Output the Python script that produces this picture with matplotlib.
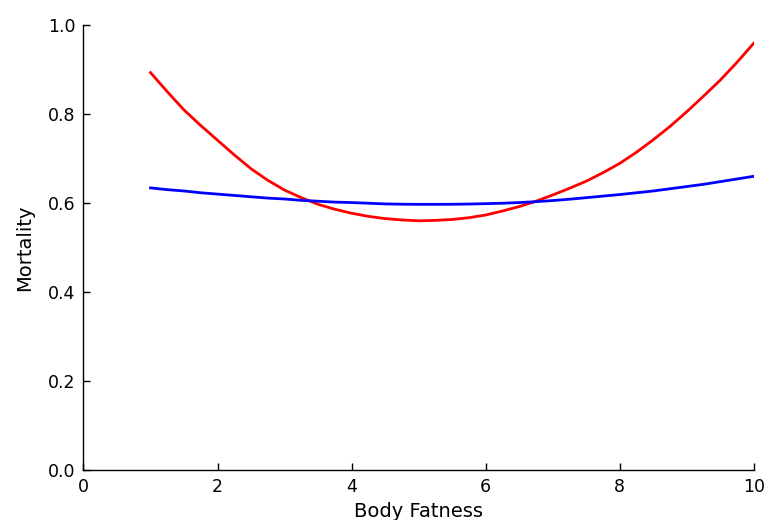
import matplotlib
matplotlib.use('Agg')
import matplotlib.pyplot as plt

# values
body_fatness = [1, 1.25, 1.5, 1.75, 2, 2.25, 2.5, 2.75, 3, 3.25, 3.5, 3.75, 4, 4.25, 4.5, 4.75,
                5, 5.25, 5.5, 5.75, 6, 6.25, 6.5, 6.75, 7, 7.25, 7.5, 7.75, 8, 8.25, 8.5, 8.75,
                9, 9.25, 9.5, 9.75, 10]
mortality_red = [0.893, 0.850, 0.809, 0.774, 0.741, 0.708, 0.677, 0.651, 0.629, 0.612, 0.597,
                 0.586, 0.577, 0.570, 0.565, 0.562, 0.560, 0.561, 0.563, 0.567, 0.573, 0.582,
                 0.592, 0.604, 0.618, 0.633, 0.649, 0.668, 0.689, 0.714, 0.742, 0.772, 0.805,
                 0.840, 0.876, 0.916, 0.959]
mortality_blue = [0.634, 0.630, 0.627, 0.623, 0.620, 0.617, 0.614, 0.611, 0.609, 0.606, 0.604,
                  0.602, 0.601, 0.5995, 0.598, 0.5973, 0.597, 0.597, 0.5972, 0.5977, 0.5985, 0.5995,
                  0.601, 0.603, 0.6055, 0.6085, 0.612, 0.6155, 0.619, 0.623, 0.627, 0.632, 0.637,
                  0.642, 0.648, 0.654, 0.660]

fig = plt.figure(figsize=(7.66, 5.2), dpi=100)
ax = fig.add_axes([0.109, 0.096, 0.875, 0.856])

ax.plot(body_fatness, mortality_red, color='#ff0000', lw=2)
ax.plot(body_fatness, mortality_blue, color='#0000ff', lw=2)

ax.set_xlim(0, 10)
ax.set_ylim(0, 1.0)
ax.set_xticks([0, 2, 4, 6, 8, 10])
ax.set_yticks([0.0, 0.2, 0.4, 0.6, 0.8, 1.0])
ax.set_yticklabels(['0.0', '0.2', '0.4', '0.6', '0.8', '1.0'])

ax.spines['top'].set_visible(False)
ax.spines['right'].set_visible(False)
for s in ['left', 'bottom']:
    ax.spines[s].set_linewidth(1.0)
ax.tick_params(direction='in', length=5, width=1, labelsize=12.5, pad=6, colors='black')

ax.set_xlabel('Body Fatness', fontsize=14, labelpad=4)
ax.set_ylabel('Mortality', fontsize=14, labelpad=10)

plt.savefig('out.png', dpi=100)
